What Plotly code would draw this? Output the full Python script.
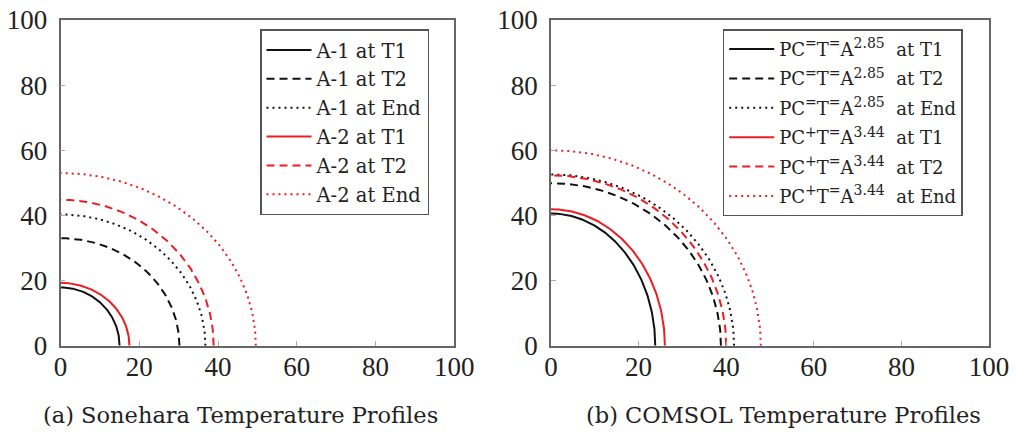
import numpy as np
import plotly.graph_objects as go

# ---- data ----
left_names = ["A-1 at T1", "A-1 at T2", "A-1 at End", "A-2 at T1", "A-2 at T2", "A-2 at End"]
left_x_radius = [15.0, 30.2, 36.8, 17.5, 38.9, 49.6]   # x-intercepts
left_y_radius = [17.9, 33.0, 40.3, 19.3, 44.8, 53.0]   # y-intercepts

right_prefix = ["PC=T=A", "PC=T=A", "PC=T=A", "PC+T=A", "PC+T=A", "PC+T=A"]
right_exponent = ["2.85", "2.85", "2.85", "3.44", "3.44", "3.44"]
right_time = ["T1", "T2", "End", "T1", "T2", "End"]
right_x_radius = [23.8, 38.8, 41.8, 26.0, 40.0, 47.9]
right_y_radius = [40.6, 49.9, 52.6, 41.9, 52.3, 60.0]

tick_vals = [0, 20, 40, 60, 80, 100]
captions = ["(a) Sonehara Temperature Profiles", "(b) COMSOL Temperature Profiles"]

# ---- styles ----
BLACK = "#111111"
RED = "#ee1d23"
colors = [BLACK, BLACK, BLACK, RED, RED, RED]
dashes = ["solid", "8px,5px", "2px,4px", "solid", "8px,5px", "2px,4px"]
SUP = "<sup><span style='font-size:14px'>{}</span></sup>"


def right_label(prefix, exp, t):
    pc_sign = prefix[2]
    return ("PC" + SUP.format(pc_sign) + "T" + SUP.format("=") + "A"
            + SUP.format(exp) + "&nbsp; at " + t)


right_names = [right_label(p, e, t) for p, e, t in zip(right_prefix, right_exponent, right_time)]

theta = np.linspace(0, np.pi / 2, 120)

fig = go.Figure()


def add_panel(names, xr, yr, xaxis, yaxis, legend, gidx):
    for i, (n, a, b) in enumerate(zip(names, xr, yr)):
        fig.add_trace(go.Scatter(
            x=a * np.cos(theta), y=b * np.sin(theta),
            mode="lines", name=n,
            line=dict(color=colors[i], width=2, dash=dashes[i]),
            xaxis=xaxis, yaxis=yaxis, legend=legend,
            legendgroup=f"{gidx}-{i}",
        ))


add_panel(left_names, left_x_radius, left_y_radius, "x", "y", "legend", "L")
add_panel(right_names, right_x_radius, right_y_radius, "x2", "y2", "legend2", "R")

W, H = 1016, 434
ydom = [1 - 345.7 / H, 1 - 20 / H]

axis_common = dict(
    range=[0, 100], tickvals=tick_vals, ticks="inside", ticklen=5,
    tickcolor="#aaaaaa", tickwidth=1, showline=True, linecolor="#666666",
    linewidth=1.5, mirror=True, showgrid=False, zeroline=False, automargin=False,
    tickfont=dict(family="Liberation Serif", size=27, color="#222222"),
)

fig.update_layout(
    width=W, height=H, margin=dict(l=0, r=0, t=0, b=0, pad=0, autoexpand=False),
    paper_bgcolor="white", plot_bgcolor="white",
    xaxis=dict(domain=[60.5 / W, 454.3 / W], anchor="y", ticklabelstandoff=-4, **axis_common),
    yaxis=dict(domain=ydom, anchor="x", ticklabelstandoff=6, **axis_common),
    xaxis2=dict(domain=[551 / W, 989 / W], anchor="y2", ticklabelstandoff=-4, **axis_common),
    yaxis2=dict(domain=ydom, anchor="x2", ticklabelstandoff=6, **axis_common),
    legend=dict(
        x=260 / W, y=1 - 29.3 / H, xanchor="left", yanchor="top",
        bordercolor="#555555", borderwidth=1.5, bgcolor="white",
        font=dict(family="DejaVu Serif", size=19.5, color="#222222"),
        tracegroupgap=0.5, itemwidth=45,
    ),
    legend2=dict(
        x=722.7 / W, y=1 - 29.3 / H, xanchor="left", yanchor="top",
        bordercolor="#555555", borderwidth=1.5, bgcolor="white",
        font=dict(family="DejaVu Serif", size=18, color="#222222"),
        tracegroupgap=3, itemwidth=45,
    ),
    showlegend=True,
)

for cx, text in zip([240.5, 783.5], captions):
    fig.add_annotation(x=cx / W, y=1 - 415 / H, xref="paper", yref="paper",
                       xanchor="center", yanchor="middle",
                       text=text, showarrow=False,
                       font=dict(family="DejaVu Serif", size=22.5, color="#222222"))

fig.write_html("out.html")
